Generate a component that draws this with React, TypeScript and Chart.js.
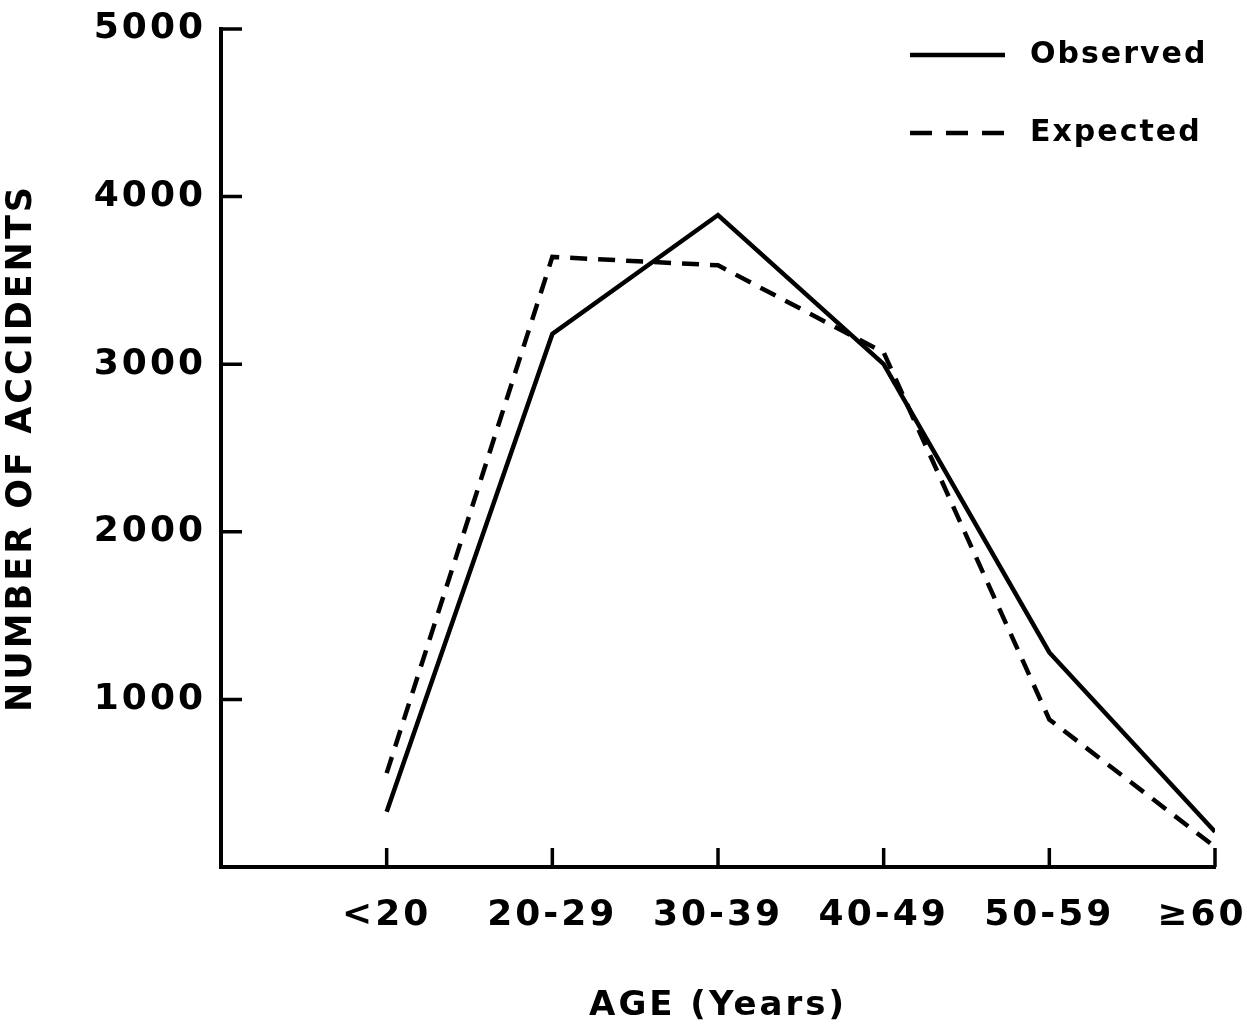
import React, { useEffect, useRef } from "react";
import { Chart, registerables } from "chart.js";

Chart.register(...registerables);

const ageLabels = ["<20", "20-29", "30-39", "40-49", "50-59", "≥60"];
const agePositions = [1, 2, 3, 4, 5, 6];
const observed = [330, 3180, 3890, 3000, 1280, 210];
const expected = [560, 3640, 3590, 3070, 880, 120];
const yTickValues = [1000, 2000, 3000, 4000, 5000];
const seriesNames = ["Observed", "Expected"];

const FONT = "'DejaVu Sans', sans-serif";
const INK = "#000";
const EXP_DASH = [17, 11];

const spacingPlugin = {
  id: "spacing",
  beforeUpdate(chart: any) {
    chart.ctx.letterSpacing = "3px";
  },
  beforeDraw(chart: any) {
    chart.ctx.letterSpacing = "3px";
    // keep the last (right-edge) x label inside the canvas, as in the original
    const sx = chart.scales.x;
    if (sx && sx.getLabelItems) {
      const items = sx.getLabelItems(chart.chartArea);
      const last = items && items[items.length - 1];
      if (last && last.options && Array.isArray(last.options.translation) && !last._shifted) {
        last.options.translation = [last.options.translation[0] - 13, last.options.translation[1]];
        last._shifted = true;
      }
    }
  },
};

const innerTicksPlugin = {
  id: "innerTicks",
  afterDraw(chart: any) {
    const { ctx, chartArea, scales } = chart;
    ctx.save();
    ctx.strokeStyle = INK;
    ctx.lineWidth = 3.5;
    ctx.beginPath();
    agePositions.forEach((v) => {
      const x = scales.x.getPixelForValue(v);
      ctx.moveTo(x, chartArea.bottom);
      ctx.lineTo(x, chartArea.bottom - 19);
    });
    yTickValues.forEach((v) => {
      const y = scales.y.getPixelForValue(v);
      ctx.moveTo(chartArea.left, y);
      ctx.lineTo(chartArea.left + 21, y);
    });
    ctx.stroke();
    ctx.restore();
  },
};

const legendPlugin = {
  id: "customLegend",
  afterDraw(chart: any) {
    const { ctx } = chart;
    const rows = [55, 133];
    ctx.save();
    chart.data.datasets.forEach((ds: any, i: number) => {
      const y = rows[i];
      ctx.strokeStyle = INK;
      ctx.lineWidth = 4.5;
      ctx.setLineDash(i === 0 ? [] : [22, 14]);
      ctx.beginPath();
      ctx.moveTo(910, y);
      ctx.lineTo(1005, y);
      ctx.stroke();
      ctx.setLineDash([]);
      ctx.fillStyle = INK;
      ctx.font = `bold 30px ${FONT}`;
      (ctx as any).letterSpacing = "2px";
      ctx.textAlign = "left";
      ctx.textBaseline = "middle";
      ctx.fillText(ds.label, 1030, y);
    });
    ctx.restore();
  },
};

export default function App() {
  const canvasRef = useRef<HTMLCanvasElement | null>(null);

  useEffect(() => {
    if (!canvasRef.current) return;
    const chart = new Chart(canvasRef.current, {
      type: "line",
      data: {
        datasets: [
          {
            label: seriesNames[0],
            data: agePositions.map((x, i) => ({ x, y: observed[i] })),
            borderColor: INK,
            borderWidth: 4.5,
            pointRadius: 0,
            tension: 0,
            fill: false,
          },
          {
            label: seriesNames[1],
            data: agePositions.map((x, i) => ({ x, y: expected[i] })),
            borderColor: INK,
            borderWidth: 4.5,
            borderDash: EXP_DASH,
            pointRadius: 0,
            tension: 0,
            fill: false,
          },
        ],
      },
      options: {
        responsive: false,
        animation: false,
        devicePixelRatio: 1,
        layout: {
          autoPadding: false,
          padding: { left: 0, top: 29, right: 32, bottom: 0 },
        } as any,
        plugins: {
          legend: { display: false },
          tooltip: { enabled: false },
          title: { display: false },
        },
        scales: {
          x: {
            type: "linear",
            min: 0,
            max: 6,
            afterFit: (scale: any) => {
              scale.height = 160;
              scale.paddingLeft = 0;
              scale.paddingRight = 0;
            },
            grid: { display: true, drawOnChartArea: false, drawTicks: false },
            border: { display: true, color: INK, width: 4 },
            ticks: {
              stepSize: 1,
              autoSkip: false,
              maxRotation: 0,
              padding: 27,
              color: INK,
              font: { family: FONT, size: 36, weight: "bold" },
              callback: (v: any) => (v >= 1 ? ageLabels[v - 1] : ""),
            },
            title: {
              display: true,
              text: "AGE (Years)",
              color: INK,
              font: { family: FONT, size: 34, weight: "bold" },
              padding: { top: 0, bottom: 0 },
            },
          },
          y: {
            type: "linear",
            min: 0,
            max: 5000,
            afterFit: (scale: any) => {
              scale.width = 221;
              scale.paddingTop = 0;
              scale.paddingBottom = 0;
            },
            grid: { display: true, drawOnChartArea: false, drawTicks: false },
            border: { display: true, color: INK, width: 4 },
            ticks: {
              stepSize: 1000,
              padding: 15,
              color: INK,
              font: { family: FONT, size: 36, weight: "bold" },
              callback: (v: any) => (v === 0 ? "" : String(v)),
            },
            title: {
              display: true,
              text: "NUMBER OF ACCIDENTS",
              color: INK,
              font: { family: FONT, size: 35, weight: "bold" },
              padding: { top: 1, bottom: 0 },
            },
          },
        },
      },
      plugins: [spacingPlugin, innerTicksPlugin, legendPlugin],
    });
    return () => chart.destroy();
  }, []);

  return (
    <div style={{ position: "absolute", left: 0, top: 0, width: 1247, height: 1027, background: "#fff" }}>
      <canvas ref={canvasRef} width={1247} height={1027} />
    </div>
  );
}
